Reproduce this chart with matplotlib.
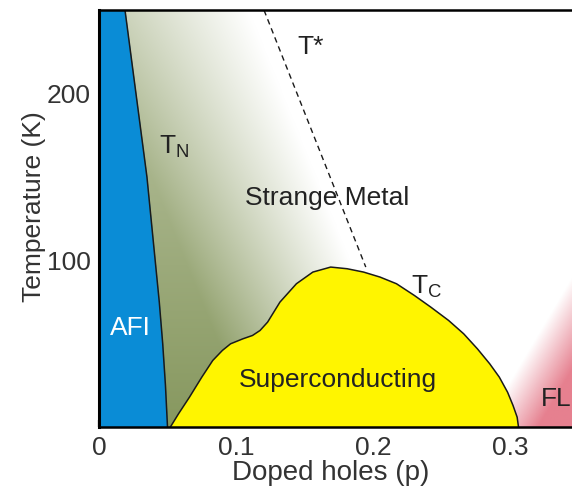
import numpy as np
import matplotlib
matplotlib.use('Agg')
import matplotlib.pyplot as plt
from matplotlib.patches import Polygon
from matplotlib.colors import to_rgb

plt.rcParams['font.family'] = ['Liberation Sans', 'DejaVu Sans']
plt.rcParams['mathtext.fontset'] = 'custom'
plt.rcParams['mathtext.rm'] = 'Liberation Sans'

# --- datos leidos del diagrama ---
# linea de Neel (T_N): temperatura -> dopaje
tn_T = [0, 25, 50, 75, 100, 150, 200, 250]
tn_p = [0.050, 0.0485, 0.0465, 0.044, 0.041, 0.035, 0.027, 0.019]

# pseudogap T* (recta discontinua)
tstar_p = [0.1204, 0.1946]
tstar_T = [250, 96]

# cupula superconductora T_c(p)
dome_p = [0.052, 0.058, 0.066, 0.075, 0.083, 0.090, 0.096, 0.105, 0.112, 0.1175,
          0.123, 0.132, 0.144, 0.156, 0.169, 0.181, 0.193, 0.205, 0.217, 0.230,
          0.242, 0.255, 0.266, 0.276, 0.285, 0.292, 0.298, 0.302, 0.305, 0.306]
dome_T = [0, 8, 18, 30, 40, 46, 50, 53, 55, 58,
          63, 75, 86, 93, 96, 95, 93, 90, 86, 79,
          72, 64, 56, 47, 38, 30, 21, 13, 6, 0]

xticks = [0, 0.1, 0.2, 0.3]
xtick_labels = ['0', '0.1', '0.2', '0.3']
yticks = [100, 200]
ytick_labels = ['100', '200']

XMAX, YMAX = 0.345, 250
FS = 19

fig = plt.figure(figsize=(5.72, 4.86), dpi=100)
ax = fig.add_axes([0.173, 0.121, 0.827, 0.858])
ax.set_xlim(0, XMAX)
ax.set_ylim(0, YMAX)

# malla para los degradados
pp, TT = np.meshgrid(np.linspace(0, XMAX, 500), np.linspace(0, YMAX, 400))

# degradado verde (metal extrano)
olive = np.array(to_rgb('#87985f'))
s = pp + 0.00049 * TT
a_g = np.clip((0.2315 - s) / 0.12, 0, 1) * (1 - 0.45 * TT / YMAX)
img_g = np.ones(pp.shape + (3,)) * (1 - a_g[..., None]) + olive * a_g[..., None]
im_g = ax.imshow(img_g, origin='lower', extent=[0, XMAX, 0, YMAX], aspect='auto',
                 interpolation='bilinear', zorder=1)
verts = list(zip(tn_p, tn_T)) + [(tstar_p[0], YMAX + 5), (tstar_p[1], tstar_T[1]), (tstar_p[1], 0)]
poly = Polygon(verts, closed=True, facecolor='none', edgecolor='none')
ax.add_patch(poly)
im_g.set_clip_path(poly)

# degradado rojo (liquido de Fermi)
pink = np.array(to_rgb('#e6808f'))
a_r = np.clip((pp - 0.00072 * TT - 0.28) / 0.04, 0, 1)
img_r = np.zeros(pp.shape + (4,))
img_r[..., :3] = pink
img_r[..., 3] = a_r
ax.imshow(img_r, origin='lower', extent=[0, XMAX, 0, YMAX], aspect='auto',
          interpolation='bilinear', zorder=1)

# AFI
ax.fill_betweenx(tn_T, 0, tn_p, color='#0a8cd6', zorder=2, linewidth=0)
ax.plot(tn_p, tn_T, color='#1a1a1a', linewidth=1.1, zorder=3)

# T*
ax.plot(tstar_p, tstar_T, color='#1a1a1a', linewidth=1.0, linestyle=(0, (4, 3)), zorder=2)

# cupula SC
ax.fill(dome_p, dome_T, color='#fff500', zorder=3, linewidth=0)
ax.plot(dome_p, dome_T, color='#1a1a1a', linewidth=1.1, zorder=4)

# etiquetas
ax.text(0.1445, 224, 'T*', fontsize=FS, ha='left', va='baseline', color='#222222', zorder=5)
ax.text(0.0438, 164, r'T$_\mathrm{N}$', fontsize=FS, ha='left', va='baseline', color='#222222', zorder=5)
ax.text(0.1666, 133.5, 'Strange Metal', fontsize=FS, ha='center', va='baseline', color='#222222', zorder=5)
ax.text(0.2275, 80, r'T$_\mathrm{C}$', fontsize=FS, ha='left', va='baseline', color='#222222', zorder=5)
ax.text(0.0231, 55, 'AFI', fontsize=FS, ha='center', va='baseline', color='white', zorder=5)
ax.text(0.1745, 24, 'Superconducting', fontsize=FS, ha='center', va='baseline', color='#222222', zorder=5)
ax.text(0.3224, 13, 'FL', fontsize=FS, ha='left', va='baseline', color='#222222', zorder=5)

# ejes
ax.set_xticks(xticks)
ax.set_xticklabels(xtick_labels)
ax.set_yticks(yticks)
ax.set_yticklabels(ytick_labels)
ax.tick_params(direction='in', length=5, width=1.6, labelsize=FS, pad=6,
               colors='#1a1a1a', labelcolor='#333333')
ax.spines['right'].set_visible(False)
ax.spines['left'].set_linewidth(2.2)
ax.spines['bottom'].set_linewidth(1.8)
ax.spines['top'].set_linewidth(1.8)
for sp in ax.spines.values():
    sp.set_zorder(6)

ax.set_xlabel('Doped holes (p)', fontsize=20, color='#333333')
ax.set_ylabel('Temperature (K)', fontsize=FS, color='#333333')
ax.xaxis.set_label_coords(0.49, -0.079)
ax.yaxis.set_label_coords(-0.112, 0.528)

fig.savefig('out.png', dpi=100)
